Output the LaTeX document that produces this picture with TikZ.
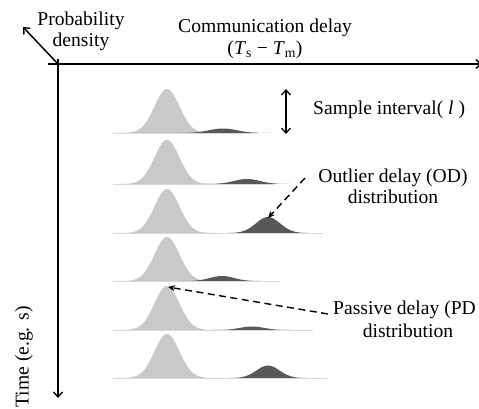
\documentclass[tikz,border=0pt]{standalone}
\usepackage{fontspec}
\setmainfont{Liberation Serif}
\usetikzlibrary{arrows.meta}
\definecolor{pdgray}{HTML}{C9C9C9}
\definecolor{odgray}{HTML}{575757}
\definecolor{rowgray}{HTML}{DADADA}
% one row of the time axis: baseline y, end of the row line, outlier centre, outlier height, outlier spread
\newcommand{\delayrow}[5]{%
  \pgfmathsetmacro{\odfrom}{#3-3.3*#5}%
  \pgfmathsetmacro{\odto}{#3+3.3*#5}%
  \draw[rowline] (113,#1) -- (#2,#1);
  \fill[pdfill] plot[domain=113:222,samples=90,smooth] (\x,{#1-44*exp(-((\x-167)^2)/312)}) -- cycle;
  \fill[odfill] plot[domain=\odfrom:\odto,samples=70,smooth] (\x,{#1-#4*exp(-((\x-#3)^2)/(2*#5*#5))}) -- cycle;
}
\begin{document}
\begin{tikzpicture}[x=1pt,y=-1pt,
  every node/.style={inner sep=0pt,font=\fontsize{19.6}{21.5}\selectfont},
  axis/.style={line width=1.5pt,-{Straight Barb[length=5pt,width=9pt,line width=1.4pt]}},
  pointer/.style={line width=1.4pt,dash pattern=on 7pt off 4.5pt,-{Stealth[length=7pt,width=6pt]}},
  rowline/.style={rowgray,line width=0.7pt},
  pdfill/.style={pdgray},
  odfill/.style={odgray}]
\clip (0,0) rectangle (479,408);
\useasboundingbox (0,0) rectangle (479,408);

% axes
\coordinate (origin) at (58,64);
\coordinate (xstart) at (48,64);
\coordinate (xend) at (482,64);
\coordinate (ytop) at (58,59);
\coordinate (yend) at (58,398);
\coordinate (zend) at (23,27);
\draw[axis] (xstart) -- (xend);
\draw[axis] (ytop) -- (yend);
\draw[axis] (origin) -- (zend);

% delay distributions, one per sample
\delayrow{133}{257}{223}{4.5}{14}
\delayrow{184}{275}{247}{5}{13}
\delayrow{233}{323}{268}{16}{12}
\delayrow{281}{280}{222}{5}{12}
\delayrow{330}{313}{252}{3.5}{12}
\delayrow{378}{327}{268}{12.5}{11.5}

% sample interval marker
\coordinate (stop) at (286,89);
\coordinate (sbot) at (286,134);
\draw[line width=1.4pt,{Straight Barb[length=5pt,width=9pt,line width=1.3pt]}-{Straight Barb[length=5pt,width=9pt,line width=1.3pt]}] (stop) -- (sbot);

% labels
\node[align=center] (prob) at (81,31.5) {Probability\\density};
\node[align=center] (comm) at (265,39) {Communication delay\\(\textit{T}\textsubscript{s} − \textit{T}\textsubscript{m})};
\node[anchor=west] (sample) at (313,110) {Sample interval( \textit{l} )};
\node[align=center] (od) at (393,186.5) {Outlier delay (OD)\\distribution};
\node[anchor=west] (pd) at (333,310) {Passive delay (PD};
\node (pd2) at (408,331) {distribution};
\node[rotate=90] (time) at (24,357) {Time (e.g. s)};

% pointers to the distributions
\coordinate (odpeak) at (268,218);
\coordinate (odfoot) at (305,178);
\coordinate (pdpeak) at (168,287);
\coordinate (pdfoot) at (328,314);
\draw[pointer] (odfoot) -- (odpeak);
\draw[pointer] (pdfoot) -- (pdpeak);
\end{tikzpicture}
\end{document}
